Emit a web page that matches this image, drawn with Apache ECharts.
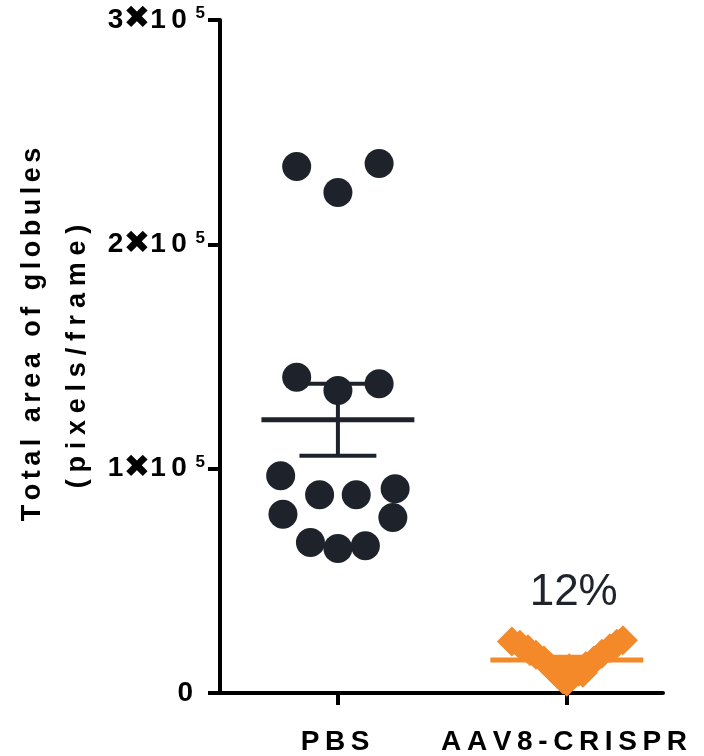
<!DOCTYPE html>
<html>
<head>
<meta charset="utf-8">
<script src="https://cdn.jsdelivr.net/npm/echarts@6/dist/echarts.min.js"></script>
<style>
html, body { margin: 0; padding: 0; background: #fff; }
#chart { width: 704px; height: 756px; }
</style>
</head>
<body>
<div id="chart"></div>
<script>
// groups on the x axis (PBS at 1, AAV8-CRISPR at 2)
var groups = ['PBS', 'AAV8-CRISPR'];
var groupPos = [1, 2];

// PBS points (x = jittered position, y = pixels/frame)
var pbsX = [0.82, 1.00, 1.18, 0.82, 1.00, 1.18, 0.75, 0.92, 1.08, 1.25, 0.76, 1.24, 0.88, 1.00, 1.12];
var pbsY = [234700, 223100, 236000, 140800, 134800, 137800, 96800, 88400, 88400, 91100, 79700, 78200, 67100, 64400, 65600];

// AAV8-CRISPR points
var aavX = [1.76, 1.795, 1.83, 1.865, 1.90, 1.93, 1.956, 1.983, 2.00, 2.022, 2.052, 2.083, 2.118, 2.153, 2.188, 2.218, 2.245, 1.95, 2.07, 2.01];
var aavY = [23000, 21500, 19500, 17000, 14500, 11500, 9000, 6000, 5000, 7500, 9500, 12000, 14500, 17500, 20000, 22000, 23500, 9500, 9000, 11000];

// mean and SEM of each group
var means = [121800, 14700];
var sems = [16000, 1500];

var percentText = '12%';
var percentPos = [2.03, 44800];

var FONT = "'Liberation Sans', Arial, sans-serif";
var INK = '#1e222b';
var ORANGE = '#f4892a';

function spaced(s, sep) {
    return s.split('').join(sep || '\u2009');
}

var segs = [];
var meanHalf = 0.334, capHalf = 0.168;
for (var g = 0; g < 2; g++) {
    var x = groupPos[g], m = means[g], e = sems[g];
    var col = g === 0 ? INK : ORANGE;
    segs.push({ col: col, w: 5, pts: [[x - meanHalf, m], [x + meanHalf, m]] });
    segs.push({ col: col, w: 4, pts: [[x, m - e], [x, m + e]] });
    segs.push({ col: col, w: 4, pts: [[x - capHalf, m - e], [x + capHalf, m - e]] });
    segs.push({ col: col, w: 4, pts: [[x - capHalf, m + e], [x + capHalf, m + e]] });
}

var series = segs.map(function (s) {
    return {
        type: 'line',
        data: s.pts,
        symbol: 'none',
        silent: true,
        z: 2,
        lineStyle: { color: s.col, width: s.w, cap: 'butt' }
    };
});

series.push({
    name: groups[0],
    type: 'scatter',
    z: 3,
    symbol: 'circle',
    symbolSize: 29,
    itemStyle: { color: INK, opacity: 1 },
    data: pbsX.map(function (x, i) { return [x, pbsY[i]]; })
});
series.push({
    name: groups[1],
    type: 'scatter',
    z: 3,
    symbol: 'diamond',
    symbolSize: 30,
    itemStyle: { color: ORANGE, opacity: 1 },
    data: aavX.map(function (x, i) { return [x, aavY[i]]; })
});

var option = {
    animation: false,
    grid: { left: 220, right: 41, top: 20, bottom: 61 },
    xAxis: {
        type: 'value',
        min: 0.485,
        max: 2.42,
        axisLine: { show: true, onZero: false, lineStyle: { color: '#000', width: 4 } },
        axisTick: { show: true, customValues: groupPos, length: 12, lineStyle: { color: '#000', width: 4 } },
        axisLabel: {
            customValues: groupPos,
            formatter: function (v) { return spaced(groups[Math.round(v) - 1]) + '\u2009'; },
            fontSize: 28,
            fontWeight: 'bold',
            fontFamily: FONT,
            color: '#000',
            margin: 35
        },
        splitLine: { show: false }
    },
    yAxis: {
        type: 'value',
        min: 0,
        max: 300000,
        interval: 100000,
        axisLine: { show: true, onZero: false, lineStyle: { color: '#000', width: 4 } },
        axisTick: { show: true, length: 12, lineStyle: { color: '#000', width: 4 } },
        axisLabel: {
            margin: 15,
            formatter: function (v) {
                if (v === 0) return '{z|0}';
                return '{n|' + (v / 100000) + '}{x|\u2716}{n|1\u20090\u2009}{s|5}';
            },
            rich: {
                n: { fontSize: 28, fontWeight: 'bold', fontFamily: FONT, color: '#000', lineHeight: 30 },
                z: { fontSize: 28, fontWeight: 'bold', fontFamily: FONT, color: '#000', lineHeight: 30, padding: [0, 12, 0, 0] },
                x: { fontSize: 32, fontFamily: "'DejaVu Sans'", color: '#000', lineHeight: 30 },
                s: { fontSize: 17, fontWeight: 'bold', fontFamily: FONT, color: '#000', verticalAlign: 'top', lineHeight: 30, padding: [0, 0, 0, 3] }
            }
        },
        splitLine: { show: false },
        name: '{a|' + spaced('Total area of globules', '\u2006') + '}\n{b|' + spaced('(pixels/frame)', '\u2005') + '}',
        nameLocation: 'middle',
        nameRotate: 90,
        nameGap: 120,
        nameTextStyle: {
            rich: {
                a: { fontSize: 27, fontWeight: 'bold', fontFamily: FONT, color: '#000', lineHeight: 45, padding: [0, 0, 0, 44] },
                b: { fontSize: 27, fontWeight: 'bold', fontFamily: FONT, color: '#000', lineHeight: 45 }
            }
        }
    },
    series: series
};

var chart = echarts.init(document.getElementById('chart'));
chart.setOption(option);

// "12%" annotation placed through the grid's own scales
var pp = chart.convertToPixel({ gridIndex: 0 }, percentPos);
chart.setOption({
    graphic: [{
        type: 'text',
        x: pp[0],
        y: pp[1],
        z: 10,
        style: {
            text: percentText,
            fill: '#1f232b',
            font: "44px 'Liberation Sans', Arial, sans-serif",
            align: 'center',
            verticalAlign: 'middle'
        }
    }]
});
</script>
</body>
</html>
